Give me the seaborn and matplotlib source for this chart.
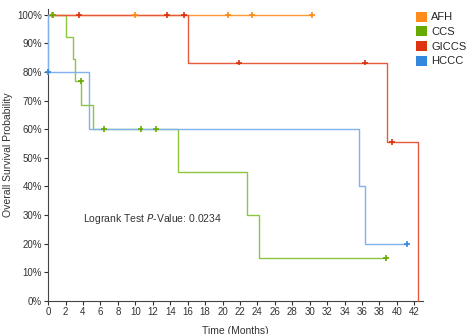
import matplotlib
matplotlib.use("Agg")
import matplotlib.pyplot as plt
from matplotlib.patches import Patch
from matplotlib.ticker import MultipleLocator, PercentFormatter
import numpy as np
import pandas as pd
import seaborn as sns

GROUPS = ["AFH", "CCS", "GICCS", "HCCC"]
LINE_COLORS = {"AFH": "#FF9A33", "CCS": "#8CC63F", "GICCS": "#E8583A", "HCCC": "#7FB2EE"}
MARK_COLORS = {"AFH": "#FF8C1A", "CCS": "#66AA00", "GICCS": "#DD3311", "HCCC": "#3388DD"}

# step curves (time in months, survival fraction)
afh_time = [0, 30.3]
afh_surv = [1.0, 1.0]
ccs_time = [0, 2.06, 2.86, 3.05, 3.78, 5.15, 14.95, 22.85, 24.2, 38.7]
ccs_surv = [1.0, 0.923, 0.846, 0.769, 0.684, 0.60, 0.45, 0.30, 0.15, 0.15]
giccs_time = [0, 16.0, 38.9, 42.4]
giccs_surv = [1.0, 0.833, 0.556, 0.0]
hccc_time = [0, 0, 4.73, 35.7, 36.3, 41.2]
hccc_surv = [1.0, 0.8, 0.6, 0.4, 0.2, 0.2]

# censored observations
afh_cens = [0.5, 10.0, 20.6, 23.4, 30.3]
ccs_cens = [0.6, 3.74, 6.45, 10.6, 12.4, 38.7]
giccs_cens = [3.5, 13.6, 15.6, 21.9, 36.3, 39.4]
hccc_cens = [0.0, 41.2]

curves = {
    "AFH": (afh_time, afh_surv, afh_cens),
    "CCS": (ccs_time, ccs_surv, ccs_cens),
    "GICCS": (giccs_time, giccs_surv, giccs_cens),
    "HCCC": (hccc_time, hccc_surv, hccc_cens),
}


def surv_at(times, surv, t):
    idx = np.searchsorted(times, t, side="right") - 1
    return surv[max(idx, 0)]


line_rows = []
cens_rows = []
for group, (times, surv, cens) in curves.items():
    for order, (t, s) in enumerate(zip(times, surv)):
        line_rows.append({"group": group, "time": t, "surv": s, "order": order})
    for t in cens:
        cens_rows.append({"group": group, "time": t, "surv": surv_at(times, surv, t)})
line_df = pd.DataFrame(line_rows)
cens_df = pd.DataFrame(cens_rows)

sns.set_theme(style="ticks")
plt.rcParams["font.family"] = ["Liberation Sans", "DejaVu Sans"]

fig = plt.figure(figsize=(4.67, 3.34), dpi=100)
ax = fig.add_axes([0.103, 0.099, 0.803, 0.874])

for group in GROUPS:
    sub = line_df[line_df["group"] == group]
    sns.lineplot(data=sub, x="time", y="surv", color=LINE_COLORS[group], lw=1.0,
                 estimator=None, sort=False, drawstyle="steps-post", ax=ax,
                 zorder=3, clip_on=False)
sns.scatterplot(data=cens_df, x="time", y="surv", hue="group", palette=MARK_COLORS,
                marker="+", s=18, linewidth=1.2, legend=False, ax=ax, zorder=5,
                clip_on=False)

ax.set_xlim(0, 43)
ax.set_ylim(0, 1.02)
ax.xaxis.set_major_locator(MultipleLocator(2))
ax.yaxis.set_major_locator(MultipleLocator(0.1))
ax.yaxis.set_major_formatter(PercentFormatter(1.0, decimals=0))
ax.tick_params(labelsize=7, length=3, width=0.8, pad=1.5, colors="#333333")
for side in ["top", "right"]:
    ax.spines[side].set_visible(False)
for side in ["left", "bottom"]:
    ax.spines[side].set_color("#444444")
    ax.spines[side].set_linewidth(0.8)

ax.set_xlabel("Time (Months)", fontsize=7.5, color="#333333", labelpad=6)
ax.set_ylabel("Overall Survival Probability", fontsize=7.5, color="#333333", labelpad=3)

ax.text(4.0, 0.287, "Logrank Test $\\it{P}$-Value: 0.0234", fontsize=7.5,
        color="#333333", va="center", ha="left")

handles = [Patch(facecolor=MARK_COLORS[g], edgecolor="none", label=g) for g in GROUPS]
fig.legend(handles=handles, loc="upper left", bbox_to_anchor=(0.89, 0.965),
           frameon=False, fontsize=8, handlelength=1.0, handleheight=1.0,
           handletextpad=0.4, labelspacing=0.35, borderaxespad=0, borderpad=0)

fig.savefig("out.png", dpi=100)
